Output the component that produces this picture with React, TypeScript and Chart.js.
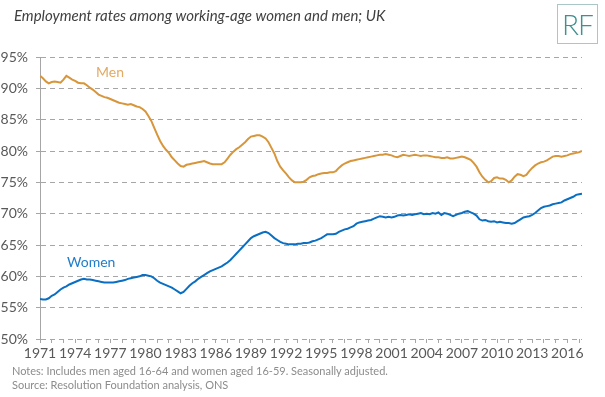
import React, { useEffect, useRef } from "react";
import { Chart, registerables } from "chart.js";

Chart.register(...registerables);

const START_YEAR = 1971;
const POINTS_PER_YEAR = 4;
const yTicks = [50, 55, 60, 65, 70, 75, 80, 85, 90, 95];
const xLabelYears = [1971, 1974, 1977, 1980, 1983, 1986, 1989, 1992, 1995, 1998, 2001, 2004, 2007, 2010, 2013, 2016];

const women = [
  56.4, 56.3, 56.3, 56.5,
  56.9, 57.1, 57.5, 57.9,
  58.2, 58.4, 58.7, 58.9,
  59.1, 59.3, 59.5, 59.6,
  59.5, 59.5, 59.4, 59.3,
  59.2, 59.1, 59.0, 59.0,
  59.0, 59.0, 59.1, 59.2,
  59.3, 59.4, 59.6, 59.7,
  59.8, 59.9, 60.0, 60.2,
  60.2, 60.1, 60.0, 59.7,
  59.3, 59.0, 58.8, 58.6,
  58.4, 58.2, 57.9, 57.6,
  57.3, 57.5, 58.0, 58.5,
  58.9, 59.2, 59.6, 59.9,
  60.2, 60.5, 60.8, 61.0,
  61.2, 61.4, 61.6, 61.9,
  62.2, 62.6, 63.1, 63.6,
  64.1, 64.6, 65.1, 65.6,
  66.1, 66.4, 66.6, 66.8,
  67.0, 67.1, 66.9, 66.5,
  66.1, 65.8, 65.5, 65.3,
  65.2, 65.1, 65.1, 65.1,
  65.2, 65.2, 65.3, 65.3,
  65.4, 65.6, 65.7, 65.9,
  66.1, 66.4, 66.7, 66.7,
  66.7, 66.8, 67.1, 67.3,
  67.5, 67.6, 67.8, 68.0,
  68.4, 68.6, 68.7, 68.8,
  68.9, 69.0, 69.2, 69.4,
  69.6, 69.5, 69.4, 69.5,
  69.4, 69.5, 69.7, 69.8,
  69.7, 69.8, 69.9, 69.8,
  69.9, 70.0, 70.1, 69.9,
  70.0, 69.9, 70.1, 70.0,
  70.2, 69.8, 70.1, 70.0,
  69.8, 69.6, 69.8, 70.0,
  70.1, 70.3, 70.4, 70.2,
  70.0, 69.7, 69.1, 68.9,
  69.0, 68.8, 68.7, 68.8,
  68.6, 68.7, 68.6, 68.5,
  68.5, 68.4, 68.5, 68.8,
  69.1, 69.4, 69.5, 69.6,
  69.8, 70.1, 70.5, 70.9,
  71.1, 71.2, 71.3, 71.5,
  71.6, 71.7, 71.8, 72.1,
  72.3, 72.5, 72.7, 73.0,
  73.1, 73.2,
];

const men = [
  92.0, 91.6, 91.1, 90.8,
  91.0, 91.1, 91.0, 90.9,
  91.4, 92.0, 91.7, 91.4,
  91.2, 90.9, 90.8, 90.8,
  90.5, 90.1, 89.8, 89.4,
  89.0, 88.8, 88.6, 88.5,
  88.3, 88.1, 87.9, 87.7,
  87.6, 87.5, 87.4, 87.5,
  87.3, 87.1, 87.0, 86.7,
  86.3, 85.6, 84.8, 83.7,
  82.6, 81.6, 80.8, 80.2,
  79.7, 79.0, 78.5, 78.0,
  77.6, 77.5, 77.8, 77.9,
  78.0, 78.1, 78.2, 78.3,
  78.4, 78.2, 78.0, 77.9,
  77.9, 77.9, 77.9, 78.2,
  78.8, 79.4, 79.9, 80.3,
  80.6, 81.0, 81.4, 81.9,
  82.3, 82.4, 82.5, 82.5,
  82.3, 82.0, 81.4, 80.5,
  79.6, 78.4, 77.5, 76.9,
  76.4, 75.8, 75.3, 75.0,
  75.0, 75.0, 75.1, 75.4,
  75.8, 76.0, 76.1, 76.3,
  76.4, 76.5, 76.5, 76.6,
  76.6, 76.8, 77.3, 77.7,
  78.0, 78.2, 78.4, 78.5,
  78.6, 78.7, 78.8, 78.9,
  79.0, 79.1, 79.2, 79.3,
  79.4, 79.4, 79.5, 79.4,
  79.3, 79.1, 79.0, 79.2,
  79.4, 79.3, 79.2, 79.3,
  79.4, 79.3, 79.2, 79.3,
  79.3, 79.2, 79.1, 79.0,
  79.0, 78.9, 78.9, 79.0,
  78.8, 78.8, 78.9, 79.0,
  79.1, 79.0, 78.8, 78.6,
  78.1, 77.5, 76.6, 75.9,
  75.4, 75.0, 75.2, 75.7,
  75.8, 75.6, 75.6, 75.4,
  75.0, 75.3, 75.9, 76.3,
  76.2, 76.0, 76.2, 76.8,
  77.3, 77.7, 78.0, 78.2,
  78.3, 78.5, 78.8, 79.1,
  79.2, 79.2, 79.1, 79.2,
  79.3, 79.5, 79.6, 79.7,
  79.8, 80.0,
];

const toPoints = (vals: number[]) =>
  vals.map((v, i) => ({ x: START_YEAR + i / POINTS_PER_YEAR, y: v }));

const FONT = "Lato, 'Open Sans', sans-serif";

export default function App() {
  const ref = useRef<HTMLCanvasElement | null>(null);

  useEffect(() => {
    if (!ref.current) return;
    const lastX = START_YEAR + (men.length - 1) / POINTS_PER_YEAR;
    const chart = new Chart(ref.current, {
      type: "line",
      data: {
        datasets: [
          {
            label: "Men",
            data: toPoints(men),
            borderColor: "#D8963B",
            borderWidth: 2,
            pointRadius: 0,
            tension: 0,
          },
          {
            label: "Women",
            data: toPoints(women),
            borderColor: "#0A6FC2",
            borderWidth: 2,
            pointRadius: 0,
            tension: 0,
          },
        ],
      },
      options: {
        animation: false,
        responsive: false,
        maintainAspectRatio: false,
        layout: { padding: { left: 0, top: 57, right: 605 - 582, bottom: 28 } },
        plugins: { legend: { display: false }, tooltip: { enabled: false } },
        scales: {
          x: {
            type: "linear",
            min: START_YEAR,
            max: lastX,
            afterFit: (s: any) => {
              s.height = 30;
            },
            ticks: {
              stepSize: 1,
              autoSkip: false,
              maxRotation: 0,
              includeBounds: false,
              padding: 2,
              color: "#595959",
              font: { family: FONT, size: 14 },
              callback: (v: any) => (xLabelYears.includes(Number(v)) ? String(v) : ""),
            },
            grid: {
              display: true,
              drawOnChartArea: false,
              drawTicks: true,
              tickLength: 4,
              color: "#A6A6A6",
            },
            border: { display: false },
          },
          y: {
            min: yTicks[0],
            max: yTicks[yTicks.length - 1],
            afterFit: (s: any) => {
              s.width = 40;
            },
            afterBuildTicks: (s: any) => {
              s.ticks = yTicks.map((v) => ({ value: v }));
            },
            ticks: {
              padding: 8,
              color: "#595959",
              font: { family: FONT, size: 14 },
              callback: (v: any) => v + "%",
            },
            grid: {
              color: "#A6A6A6",
              lineWidth: 1,
              tickLength: 4,
              tickBorderDash: [],
            },
            border: { display: true, color: "#A6A6A6", width: 1, dash: [5, 4] },
          },
        },
      },
    });
    return () => chart.destroy();
  }, []);

  return (
    <div
      style={{
        position: "fixed",
        left: 0,
        top: 0,
        width: 605,
        height: 397,
        background: "#fff",
        fontFamily: FONT,
      }}
    >
      <canvas
        ref={ref}
        width={605}
        height={397}
        style={{ position: "absolute", left: 0, top: 0, width: 605, height: 397 }}
      />
      <div
        style={{
          position: "absolute",
          left: 14,
          top: 6,
          fontSize: 15,
          fontStyle: "italic",
          color: "#404040",
          whiteSpace: "nowrap",
        }}
      >
        Employment rates among working-age women and men; UK
      </div>
      <div
        style={{
          position: "absolute",
          left: 557,
          top: 4,
          width: 41,
          height: 40,
          border: "1px solid #A9C7C7",
          boxSizing: "border-box",
          color: "#3F9090",
          fontSize: 28,
          lineHeight: "38px",
          textAlign: "center",
          fontWeight: 300,
          letterSpacing: -1,
        }}
      >
        RF
      </div>
      <div
        style={{
          position: "absolute",
          left: 96,
          top: 63,
          fontSize: 14,
          color: "#E2AA62",
        }}
      >
        Men
      </div>
      <div
        style={{
          position: "absolute",
          left: 67,
          top: 253,
          fontSize: 14,
          color: "#1F7DCB",
        }}
      >
        Women
      </div>
      <div
        style={{
          position: "absolute",
          left: 12,
          top: 364,
          fontSize: 11,
          lineHeight: "14px",
          color: "#8C8C8C",
          whiteSpace: "nowrap",
        }}
      >
        Notes: Includes men aged 16-64 and women aged 16-59. Seasonally adjusted.
        <br />
        Source: Resolution Foundation analysis, ONS
      </div>
    </div>
  );
}
